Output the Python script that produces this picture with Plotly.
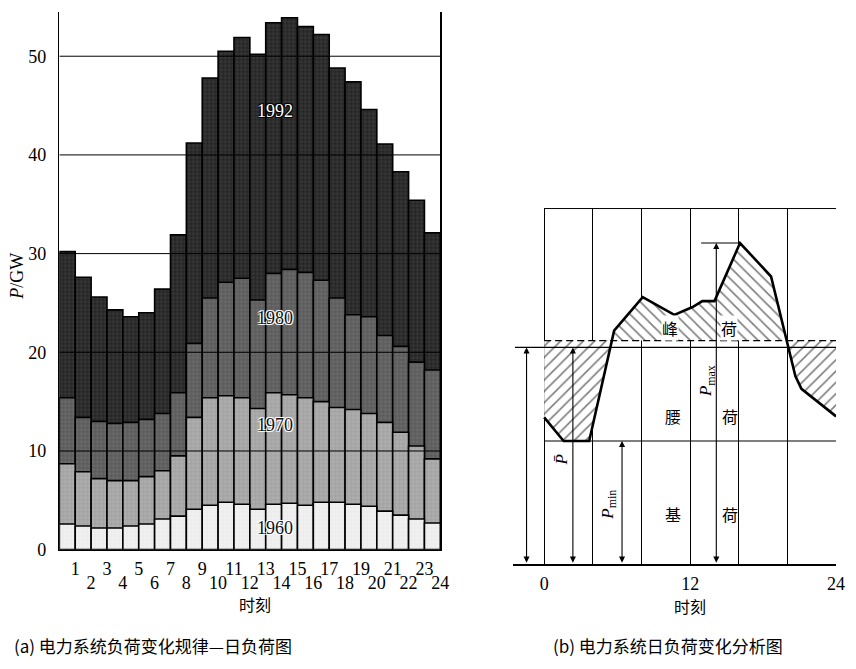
import plotly.graph_objects as go

# ---------------- data: (a) daily load of 4 years (GW) ----------------
hours = list(range(1, 25))
load_1992 = [30.2, 27.6, 25.6, 24.3, 23.6, 24.0, 26.4, 31.9, 41.2, 47.8, 50.5, 51.9,
             50.2, 53.4, 53.9, 53.0, 52.2, 48.8, 47.4, 44.6, 41.1, 38.3, 35.4, 32.1]
load_1980 = [15.4, 13.4, 13.0, 12.8, 12.9, 13.2, 13.8, 15.9, 20.9, 25.5, 27.1, 27.5,
             25.3, 28.0, 28.4, 28.1, 27.3, 25.5, 23.8, 23.6, 21.7, 20.6, 19.0, 18.2]
load_1970 = [8.7, 7.9, 7.2, 7.0, 7.0, 7.4, 8.0, 9.5, 13.4, 15.4, 15.6, 15.4,
             14.3, 15.9, 15.7, 15.4, 15.0, 14.4, 14.2, 13.8, 12.9, 11.9, 10.5, 9.2]
load_1960 = [2.6, 2.4, 2.2, 2.2, 2.4, 2.6, 3.1, 3.4, 4.1, 4.5, 4.8, 4.6,
             4.1, 4.6, 4.7, 4.5, 4.8, 4.8, 4.6, 4.4, 3.9, 3.5, 3.1, 2.7]
years = ["1992", "1980", "1970", "1960"]
y_ticks_a = [0, 10, 20, 30, 40, 50]

# ---------------- data: (b) analysis curve ----------------
t_b = [0, 1.6, 3.7, 5.75, 8.1, 10.7, 12.2, 13.0, 14.0, 16.1, 18.65, 20.65, 21.15, 24]
p_b = [14.9, 12.5, 12.5, 23.7, 27.1, 25.3, 26.1, 26.7, 26.7, 32.6, 29.2, 19.1, 17.8, 15.0]
p_avg = 22.0        # solid line (P-bar)
p_split = 22.7      # dashed line separating peak / waist
frame_top = 36.1
x_ticks_b = [0, 4, 8, 12, 16, 20, 24]
x_labels_b = ["0", "", "", "12", "", "", "24"]

W, H = 856, 669
def px(x): return x / W
def py(y): return (H - y) / H

SERIF = "Liberation Serif, Times New Roman, serif"
CJK = "Noto Sans CJK SC"

fig = go.Figure()

# ---- (a) overlapping bars ----
colors = {"1992": "#262626", "1980": "#5c5c5c", "1970": "#a3a3a3", "1960": "#ececec"}
spk = {"1992": "#4a4a4a", "1980": "#7a7a7a", "1970": "#bdbdbd", "1960": "#f8f8f8"}
series = {"1992": load_1992, "1980": load_1980, "1970": load_1970, "1960": load_1960}
xc = [h - 0.5 for h in hours]
for yr in years:
    fig.add_trace(go.Bar(
        x=xc, y=series[yr], width=1, name=yr, showlegend=False,
        marker=dict(color=colors[yr], line=dict(color="black", width=1.6),
                    pattern=dict(shape=".", fgcolor=spk[yr], bgcolor=colors[yr],
                                 size=4, solidity=0.4)),
        xaxis="x", yaxis="y", hoverinfo="skip"))
# dummy for the even-label axis
fig.add_trace(go.Scatter(x=[], y=[], xaxis="x3", yaxis="y", showlegend=False))

# grid lines drawn above bars
for v in y_ticks_a[1:]:
    fig.add_shape(type="line", xref="x", yref="y", x0=0, x1=24, y0=v, y1=v,
                  line=dict(color="black", width=1), layer="above")

# year labels
lab_pos = {"1992": 44.5, "1980": 23.5, "1970": 12.6, "1960": 2.2}
outline_w = "1px 1px 0 #000, -1px -1px 0 #000, 1px -1px 0 #000, -1px 1px 0 #000"
outline_b = "1px 1px 0 #fff, -1px -1px 0 #fff, 1px -1px 0 #fff, -1px 1px 0 #fff"
for yr in years:
    white = yr == "1992"
    fig.add_annotation(x=13.6, y=lab_pos[yr], xref="x", yref="y", text=yr, showarrow=False,
                       xanchor="center", yanchor="middle",
                       font=dict(family=SERIF, size=18, color="white" if white else "#111",
                                 shadow=outline_w if white else outline_b))

# ---- (b) hatch polygons ----
def split_at(t, p, level):
    tt, pp = [t[0]], [p[0]]
    for i in range(1, len(t)):
        t0, p0, t1, p1 = t[i - 1], p[i - 1], t[i], p[i]
        if (p0 - level) * (p1 - level) < 0:
            tt.append(t0 + (level - p0) * (t1 - t0) / (p1 - p0))
            pp.append(level)
        tt.append(t1)
        pp.append(p1)
    return tt, pp

tt, pp = split_at(t_b, p_b, p_split)
peak_y = [max(v, p_split) for v in pp] + [p_split, p_split]
valley_y = [min(v, p_split) for v in pp] + [p_split, p_split]
poly_x = tt + [tt[-1], tt[0]]
for ys, shp in ((peak_y, "\\"), (valley_y, "/")):
    fig.add_trace(go.Scatter(x=poly_x, y=ys, fill="toself", mode="lines",
                             line=dict(width=0, color="rgba(0,0,0,0)"),
                             fillcolor="white",
                             fillpattern=dict(shape=shp, fgcolor="black", bgcolor="white",
                                              size=8, solidity=0.2),
                             xaxis="x2", yaxis="y2", showlegend=False, hoverinfo="skip"))
# load curve
fig.add_trace(go.Scatter(x=t_b, y=p_b, mode="lines", line=dict(color="black", width=2.6),
                         xaxis="x2", yaxis="y2", showlegend=False, hoverinfo="skip"))

# frame / level lines
p_min = min(p_b)
p_max = max(p_b)
t_pk = t_b[p_b.index(p_max)]
fig.add_shape(type="line", xref="x2", yref="y2", x0=0, x1=24, y0=frame_top, y1=frame_top,
              line=dict(color="black", width=1))
fig.add_shape(type="line", xref="x2", yref="y2", x0=-2.4, x1=24, y0=p_avg, y1=p_avg,
              line=dict(color="black", width=1.2))
fig.add_shape(type="line", xref="x2", yref="y2", x0=0, x1=24, y0=p_split, y1=p_split,
              line=dict(color="black", width=1.3, dash="7px,4px"))
fig.add_shape(type="line", xref="x2", yref="y2", x0=0, x1=24, y0=p_min, y1=p_min,
              line=dict(color="black", width=1.1))
fig.add_shape(type="line", xref="x2", yref="y2", x0=12.9, x1=t_pk, y0=p_max, y1=p_max,
              line=dict(color="black", width=1.1))

def darrow(t, top):
    fig.add_annotation(x=t, y=top, ax=t, ay=0, xref="x2", yref="y2", axref="x2", ayref="y2",
                       text="", showarrow=True, arrowhead=2, startarrowhead=2,
                       arrowside="end+start", arrowsize=1.1, startarrowsize=1.1,
                       arrowwidth=1.1, arrowcolor="black")
darrow(-1.45, p_avg)
darrow(2.36, p_avg)
darrow(6.4, p_min)
darrow(14.15, p_max)

def rot_label(t, y, text):
    fig.add_annotation(x=t, y=y, xref="x2", yref="y2", text=text, showarrow=False,
                       xanchor="center", yanchor="middle",
                       textangle=-90, font=dict(family=SERIF, size=17, color="black"))
rot_label(1.45, 10.6, "<i>P\u0304</i>")
rot_label(5.3, 6.0, "<i>P</i><sub>min</sub>")
rot_label(13.4, 18.6, "<i>P</i><sub>max</sub>")

for (t, y, s, bg) in [(10.35, 24.0, "峰", "white"), (15.2, 24.0, "荷", "white"),
                      (10.55, 15.0, "腰", None), (15.25, 15.0, "荷", None),
                      (10.55, 5.1, "基", None), (15.25, 5.1, "荷", None)]:
    fig.add_annotation(x=t, y=y, xref="x2", yref="y2", text=s, showarrow=False,
                       xanchor="center", yanchor="middle",
                       bgcolor=bg if bg else "rgba(0,0,0,0)", borderpad=0,
                       font=dict(family=CJK, size=16, color="black"))

# ---- texts in paper coords ----
def ptext(x, y, text, size, family, angle=0):
    fig.add_annotation(x=px(x), y=py(y), xref="paper", yref="paper", showarrow=False,
                       xanchor="center", yanchor="middle", text=text, textangle=angle,
                       font=dict(family=family, size=size, color="black"))

ptext(17, 280, "<i>P</i>/GW", 18, SERIF, -90)
ptext(258, 613, "时刻", 16, CJK)
ptext(697, 615, "时刻", 16, CJK)
ptext(155, 655, "(a) 电力系统负荷变化规律—日负荷图", 17, CJK)
ptext(675, 655, "(b) 电力系统日负荷变化分析图", 17, CJK)

odd = [h for h in hours if h % 2 == 1]
even = [h for h in hours if h % 2 == 0]

fig.update_layout(
    width=W, height=H, margin=dict(l=0, r=0, t=0, b=0),
    paper_bgcolor="white", plot_bgcolor="rgba(0,0,0,0)",
    barmode="overlay", bargap=0, showlegend=False,
    xaxis=dict(domain=[px(60), px(445)], range=[0, 24], anchor="y",
               tickvals=odd, ticktext=[str(h) for h in odd], ticks="",
               ticklabelstandoff=2,
               showgrid=False, zeroline=False, showline=True, linecolor="black", linewidth=1.6,
               tickfont=dict(family=SERIF, size=18, color="black")),
    xaxis3=dict(overlaying="x", anchor="y", range=[0, 24], side="bottom",
                tickvals=even, ticktext=[str(h) for h in even], ticks="",
                ticklabelstandoff=20,
                showgrid=False, zeroline=False, showline=False,
                tickfont=dict(family=SERIF, size=18, color="black")),
    yaxis=dict(domain=[py(558), py(12)], range=[0, 54.5], anchor="x",
               tickvals=y_ticks_a, ticks="", ticklabelstandoff=8,
               showgrid=False, zeroline=False, showline=True, mirror=True,
               linecolor="black", linewidth=1.6,
               tickfont=dict(family=SERIF, size=18, color="black")),
    xaxis2=dict(domain=[px(518), px(845)], range=[-2.6, 24], anchor="y2",
                tickvals=x_ticks_b, ticktext=x_labels_b, ticks="", ticklabelstandoff=3,
                showgrid=True, gridcolor="black", gridwidth=1,
                zeroline=False, showline=True, linecolor="black", linewidth=1.4,
                tickfont=dict(family=SERIF, size=18, color="black")),
    yaxis2=dict(domain=[py(572.7), py(211.2)], range=[0, frame_top + 0.05], anchor="x2",
                showgrid=False, zeroline=False, showline=False, showticklabels=False,
                ticks=""),
)

fig.write_html("out.html", config={"displayModeBar": False, "staticPlot": True},
               post_script="document.body.style.margin='0';document.body.style.overflow='hidden';")
